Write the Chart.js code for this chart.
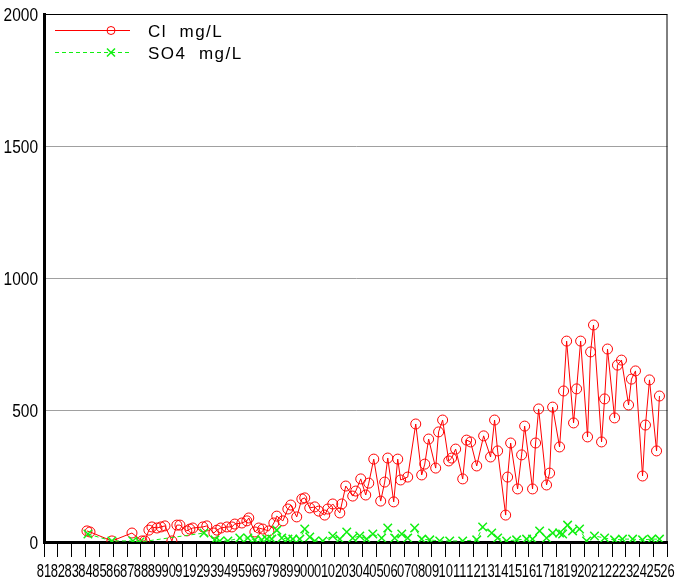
<!DOCTYPE html>
<html>
<head>
<meta charset="utf-8">
<script src="https://cdn.jsdelivr.net/npm/chart.js@4.4.1/dist/chart.umd.min.js"></script>
<style>
  html, body { margin: 0; padding: 0; background: #fff; }
  #wrap { width: 675px; height: 583px; }
</style>
</head>
<body>
<div id="wrap"><canvas id="chart" width="675" height="583"></canvas></div>
<script>
// sample dates (decimal years) and values
const clDates = [1984.10, 1984.32, 1985.90, 1987.35, 1988.07, 1988.28, 1988.57, 1988.79, 1989.15, 1989.44,
  1989.73, 1990.23, 1990.59, 1990.81, 1991.31, 1991.53, 1991.74, 1992.47, 1992.75, 1993.26,
  1993.48, 1993.76, 1994.20, 1994.56, 1994.77, 1995.28, 1995.64, 1995.78, 1996.22, 1996.50,
  1996.79, 1997.23, 1997.59, 1997.80, 1998.24, 1998.60, 1998.81, 1999.24, 1999.61, 1999.82,
  2000.18, 2000.54, 2000.83, 2001.26, 2001.48, 2001.84, 2002.35, 2002.49, 2002.78, 2003.28,
  2003.50, 2003.86, 2004.22, 2004.44, 2004.80, 2005.30, 2005.59, 2005.81, 2006.24, 2006.53,
  2006.74, 2007.25, 2007.83, 2008.26, 2008.48, 2008.76, 2009.27, 2009.48, 2009.77, 2010.21,
  2010.42, 2010.71, 2011.22, 2011.50, 2011.79, 2012.23, 2012.73, 2013.23, 2013.52, 2013.74,
  2014.32, 2014.46, 2014.68, 2015.18, 2015.47, 2015.69, 2016.26, 2016.48, 2016.70, 2017.27,
  2017.49, 2017.71, 2018.21, 2018.50, 2018.72, 2019.22, 2019.44, 2019.73, 2020.23, 2020.45,
  2020.66, 2021.24, 2021.46, 2021.67, 2022.18, 2022.39, 2022.68, 2023.19, 2023.40, 2023.69,
  2024.20, 2024.41, 2024.70, 2025.21, 2025.42];
const clValues = [42, 38, 4, 34, 4, 4, 45, 57, 53, 57,
  61, 4, 64, 64, 42, 49, 53, 57, 61, 34,
  45, 53, 57, 57, 68, 72, 80, 91, 38, 53,
  49, 42, 72, 98, 80, 125, 140, 95, 163, 167,
  129, 133, 117, 102, 125, 144, 110, 144, 212, 174,
  193, 239, 178, 223, 314, 155, 227, 318, 152, 314,
  235, 246, 447, 254, 295, 390, 280, 417, 462, 307,
  318, 352, 239, 386, 379, 288, 402, 322, 462, 345,
  102, 246, 375, 201, 330, 439, 201, 375, 504, 216,
  261, 511, 360, 572, 761, 451, 580, 761, 398, 720,
  822, 379, 542, 731, 470, 670, 689, 519, 617, 648,
  250, 443, 614, 345, 553];

const so4Dates = [1984.17, 1985.90, 1987.42, 1987.92, 1992.54, 1993.33, 1993.69, 1994.27, 1995.13, 1995.71,
  1996.22, 1996.72, 1997.08, 1997.44, 1997.80, 1998.16, 1998.60, 1998.96, 1999.46, 1999.82,
  2000.18, 2000.54, 2001.12, 2001.84, 2002.35, 2002.85, 2003.28, 2003.79, 2004.29, 2004.73,
  2005.37, 2005.81, 2006.31, 2006.82, 2007.25, 2007.75, 2008.26, 2008.84, 2009.56, 2010.28,
  2011.22, 2012.23, 2012.66, 2013.31, 2013.74, 2014.39, 2015.11, 2015.83, 2016.26, 2016.77,
  2017.27, 2017.71, 2018.21, 2018.43, 2018.79, 2019.15, 2019.65, 2020.16, 2020.73, 2021.46,
  2022.18, 2022.75, 2023.48, 2024.20, 2024.85, 2025.42];
const so4Values = [30, 4, 4, 0, 34, 8, 4, 4, 15, 15,
  8, 8, 11, 11, 45, 15, 11, 11, 11, 49,
  19, 4, 4, 23, 11, 38, 15, 23, 11, 30,
  15, 53, 15, 30, 15, 53, 11, 8, 4, 4,
  4, 8, 57, 34, 15, 4, 8, 11, 11, 42,
  15, 34, 34, 30, 64, 42, 49, 4, 23, 15,
  8, 11, 11, 8, 11, 11];

const seriesNames = ['Cl mg/L', 'SO4 mg/L'];
const yearMin = 1981;
const yearMax = 2026;
const yTicks = [0, 500, 1000, 1500, 2000];

const labelFont = "18px 'Liberation Sans', Arial, sans-serif";

function toPoints(xs, ys) {
  return xs.map(function (x, i) { return { x: x, y: ys[i] }; });
}

// squeezed text, the original uses a condensed face
function drawNarrow(ctx, text, x, y, align, squeeze) {
  ctx.save();
  ctx.translate(x, y);
  ctx.scale(squeeze, 1);
  ctx.textAlign = align;
  ctx.fillText(text, 0, 0);
  ctx.restore();
}

// tick labels, frame and the legend inside the plot
const chartDecor = {
  id: 'chartDecor',
  afterDraw(chart) {
    const ctx = chart.ctx;
    const area = chart.chartArea;
    const xs = chart.scales.x;
    const ys = chart.scales.y;
    ctx.save();

    // frame on top/right
    ctx.strokeStyle = '#000';
    ctx.lineWidth = 1;
    ctx.beginPath();
    ctx.moveTo(area.left, area.top + 0.5);
    ctx.lineTo(area.right - 0.5, area.top + 0.5);
    ctx.lineTo(area.right - 0.5, area.bottom);
    ctx.stroke();

    ctx.fillStyle = '#000';
    ctx.font = labelFont;
    ctx.textBaseline = 'alphabetic';
    xs.ticks.forEach(function (t) {
      const px = xs.getPixelForValue(t.value);
      drawNarrow(ctx, String(t.value % 100).padStart(2, '0'), px, area.bottom + 35, 'center', 0.72);
    });
    ys.ticks.forEach(function (t) {
      const py = ys.getPixelForValue(t.value);
      drawNarrow(ctx, String(t.value), area.left - 6, py + 7, 'right', 0.86);
    });

    chart.data.datasets.forEach(function (ds, i) {
      const y = area.top + 16 + i * 22;
      const x0 = area.left + 11;
      const x1 = area.left + 86;
      const mx = area.left + 67;
      ctx.strokeStyle = ds.borderColor;
      ctx.lineWidth = 1;
      ctx.setLineDash(ds.borderDash || []);
      ctx.beginPath();
      ctx.moveTo(x0, y + 0.5);
      ctx.lineTo(x1, y + 0.5);
      ctx.stroke();
      ctx.setLineDash([]);
      ctx.lineWidth = ds.pointBorderWidth;
      ctx.beginPath();
      if (ds.pointStyle === 'circle') {
        ctx.arc(mx, y + 0.5, 4, 0, Math.PI * 2);
      } else {
        ctx.moveTo(mx - 4, y - 3.5); ctx.lineTo(mx + 4, y + 4.5);
        ctx.moveTo(mx + 4, y - 3.5); ctx.lineTo(mx - 4, y + 4.5);
      }
      ctx.stroke();
      ctx.fillStyle = '#000';
      ctx.font = "17px 'Liberation Sans', sans-serif";
      ctx.letterSpacing = '1.5px';
      ctx.textBaseline = 'middle';
      ctx.textAlign = 'left';
      ctx.fillText(ds.label.replace(' ', '  '), area.left + 104, y + 2);
      ctx.letterSpacing = '0px';
    });
    ctx.restore();
  }
};

const ctx = document.getElementById('chart').getContext('2d');

new Chart(ctx, {
  type: 'scatter',
  data: {
    datasets: [
      {
        label: seriesNames[0],
        data: toPoints(clDates, clValues),
        showLine: true,
        borderColor: '#ff0000',
        borderWidth: 1,
        pointStyle: 'circle',
        pointRadius: 5,
        pointBorderWidth: 1,
        pointBorderColor: '#ff0000',
        pointBackgroundColor: 'rgba(0,0,0,0)',
        order: 2
      },
      {
        label: seriesNames[1],
        data: toPoints(so4Dates, so4Values),
        showLine: true,
        borderColor: '#11f011',
        borderWidth: 1,
        borderDash: [4, 3],
        pointStyle: 'crossRot',
        pointRadius: 6,
        pointBorderWidth: 1.5,
        pointBorderColor: '#11f011',
        order: 1
      }
    ]
  },
  options: {
    responsive: false,
    animation: false,
    layout: { padding: { left: 0, right: 7, top: 14, bottom: 0 } },
    plugins: {
      legend: { display: false },
      tooltip: { enabled: false }
    },
    scales: {
      x: {
        type: 'linear',
        min: yearMin,
        max: yearMax,
        afterFit: function (scale) { scale.height = 41; },
        afterBuildTicks: function (scale) {
          const t = [];
          for (let yr = yearMin; yr <= yearMax; yr++) t.push({ value: yr });
          scale.ticks = t;
        },
        ticks: { display: false, autoSkip: false, maxRotation: 0, minRotation: 0 },
        grid: {
          drawOnChartArea: false,
          drawTicks: true,
          tickLength: 15,
          tickColor: '#000',
          lineWidth: 1
        },
        border: { color: '#000', width: 3 }
      },
      y: {
        min: 0,
        max: 2000,
        afterFit: function (scale) { scale.width = 44; },
        afterBuildTicks: function (scale) {
          scale.ticks = yTicks.map(function (v) { return { value: v }; });
        },
        ticks: { display: false },
        grid: {
          drawTicks: false,
          color: function (c) { return c.tick && c.tick.value === 2000 ? '#000' : '#a0a0a0'; },
          lineWidth: 1
        },
        border: { color: '#000', width: 3 }
      }
    }
  },
  plugins: [chartDecor]
});
</script>
</body>
</html>
